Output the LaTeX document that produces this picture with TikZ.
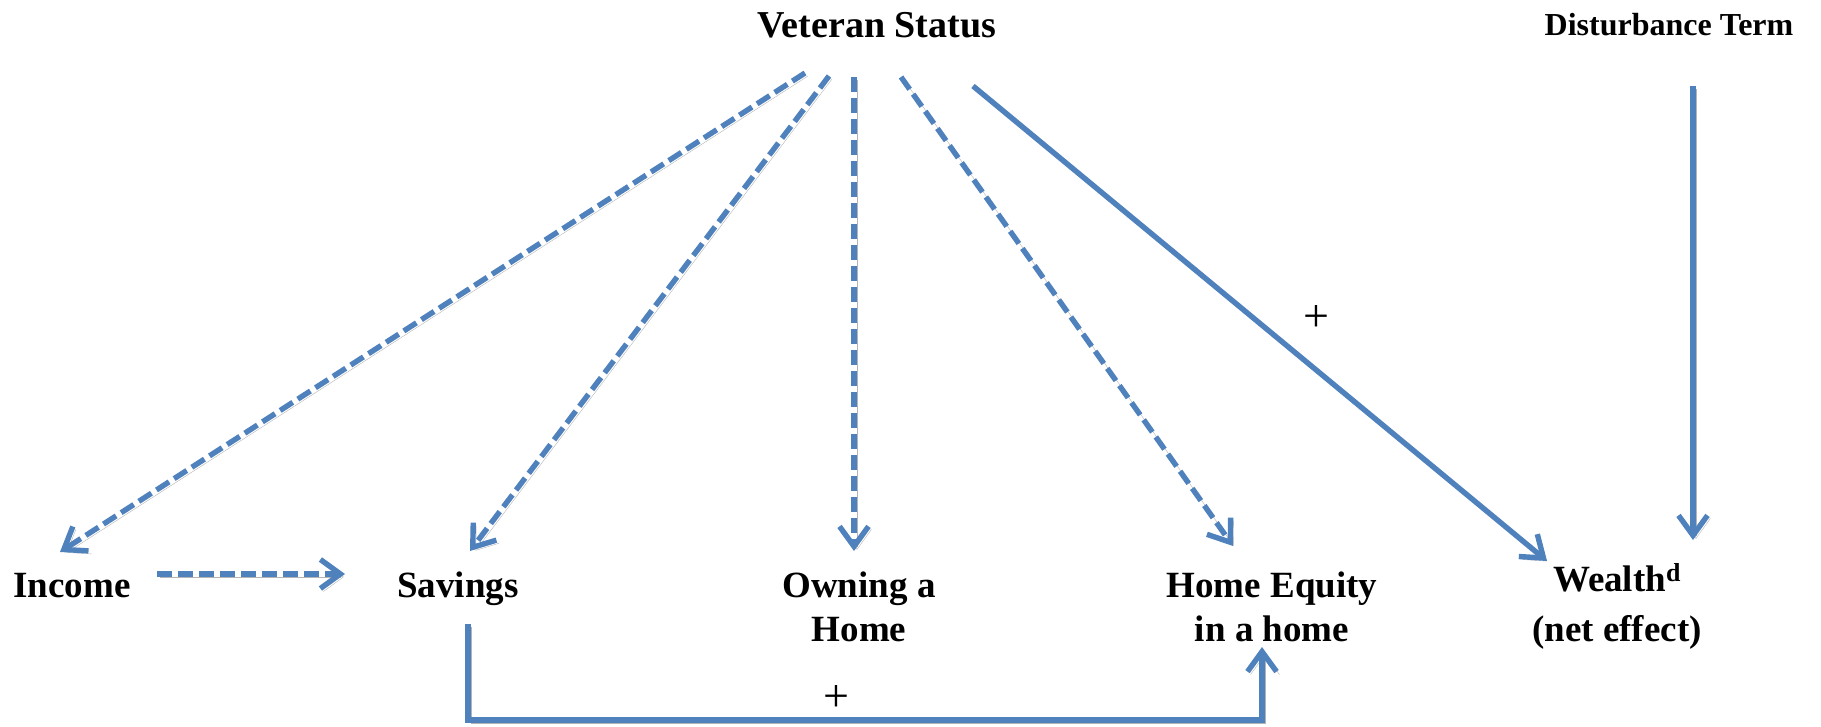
\documentclass[tikz,border=0pt]{standalone}
\usepackage{fontspec}
\setmainfont{Liberation Serif}
\usetikzlibrary{arrows.meta,calc}
\definecolor{lineblue}{HTML}{4F81BD}
\definecolor{shadowgray}{HTML}{B4B4B4}
\begin{document}
\begin{tikzpicture}[x=1pt,y=-1pt,
  lbl/.style={inner sep=0pt,anchor=base,align=center,font=\bfseries\fontsize{37}{44}\selectfont},
  plus/.style={inner sep=0pt,font=\fontsize{46}{50}\selectfont},
  conn/.style={draw=lineblue,line width=5.4pt,
    -{Straight Barb[length=20pt,width=29pt,line width=5.4pt]},
    preaction={draw=shadowgray,transform canvas={xshift=3pt,yshift=-3pt}}},
  dashconn/.style={conn,dash pattern=on 15pt off 6pt},
  plain/.style={draw=lineblue,line width=5.4pt,
    preaction={draw=shadowgray,transform canvas={xshift=3pt,yshift=-3pt}}}
]
\useasboundingbox (0,0) rectangle (1821,726);
\node[lbl,font=\bfseries\fontsize{38}{44}\selectfont] (vs) at (877,37) {Veteran Status};
\node[lbl,font=\bfseries\fontsize{32}{36}\selectfont] (dt) at (1669,35) {Disturbance Term};
\node[lbl] (inc) at (72,597) {Income};
\node[lbl] (sav) at (458,597) {Savings};
\node[lbl] (own) at (859,641) {Owning a\\Home};
\node[lbl] (he) at (1272,641) {Home Equity\\in a home};
\node[lbl,font=\bfseries\fontsize{37}{50}\selectfont] (wl) at (1617,641) {Wealth\textsuperscript{d}\\(net effect)};
\node[plus] (p1) at (1316,319) {+};
\node[plus] (p2) at (836,698) {+};

\draw[dashconn] ($(vs.base)+(-72,36)$) -- ($(inc.base)+(-12,-45)$);
\draw[dashconn] ($(vs.base)+(-48,39)$) -- ($(sav.base)+(12,-46)$);
\draw[dashconn] ($(vs.base)+(-23,40)$) -- ($(own.base)+(-5,-90)$);
\draw[dashconn] ($(vs.base)+(24,40)$) -- ($(he.base)+(-39,-95)$);
\draw[conn] ($(vs.base)+(96,49)$) -- ($(wl.base)+(-70,-80)$);
\draw[conn] ($(dt.base)+(24,51)$) -- ($(wl.base)+(76,-101)$);
\draw[dashconn] ($(inc.base)+(85,-23)$) -- ($(sav.base)+(-113,-23)$);
\draw[conn] ($(sav.base)+(10,27)$) -- ++(0,96) -| ($(he.base)+(-10,6)$);
\end{tikzpicture}
\end{document}
